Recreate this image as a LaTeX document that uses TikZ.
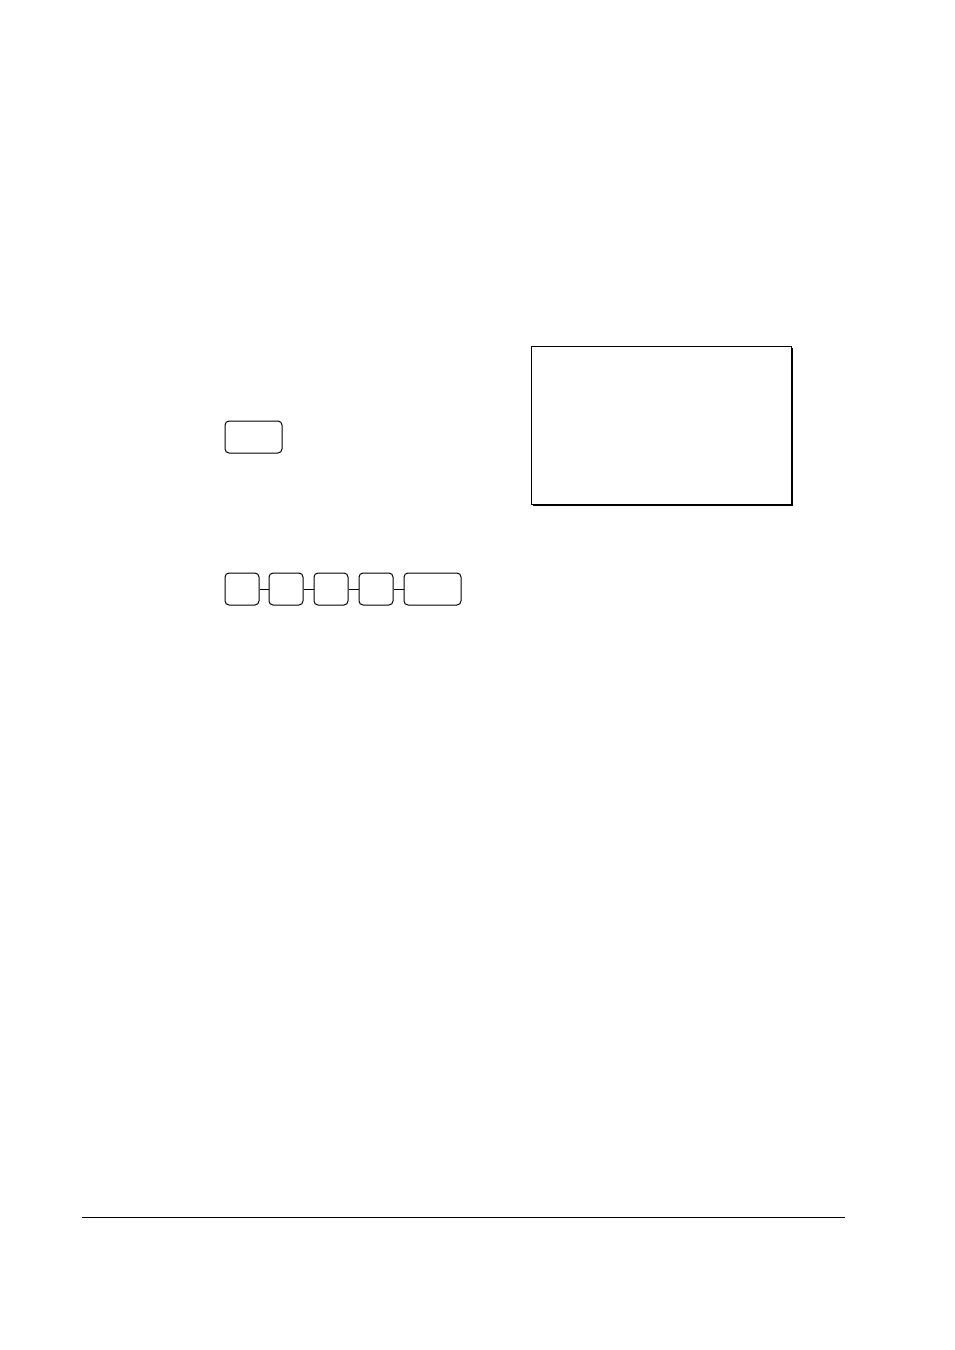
\documentclass[tikz,border=0pt]{standalone}
\usepackage{tikz}

\tikzset{keybox/.style={draw, rounded corners=4pt, line width=1pt, minimum height=32pt, inner sep=0pt}}

\begin{document}
\begin{tikzpicture}[x=1pt,y=-1pt]
\useasboundingbox (0,0) rectangle (954,1350);
\node [keybox, minimum width=57pt] (kclear) at (253.5,437) {};
\node [keybox, minimum width=34pt] (k1) at (242,589) {};
\node [keybox, minimum width=34pt] (k2) at (286,589) {};
\node [keybox, minimum width=34pt] (k3) at (331,589) {};
\node [keybox, minimum width=34pt] (k4) at (376,589) {};
\node [keybox, minimum width=57pt] (k5) at (432.5,589) {};
\draw [line width=1pt] (k1) -- (k2);
\draw [line width=1pt] (k2) -- (k3);
\draw [line width=1pt] (k3) -- (k4);
\draw [line width=1pt] (k4) -- (k5);
%display with shadow
\fill (533,348) rectangle (793,506);
\node [draw, fill=white, line width=1pt, minimum width=260pt, minimum height=158pt, inner sep=0pt] (display) at (661,425) {};
\coordinate (rl) at (82,1217);
\coordinate (rr) at (845,1217);
\draw [line width=1pt] (rl) -- (rr);
\end{tikzpicture}
\end{document}
